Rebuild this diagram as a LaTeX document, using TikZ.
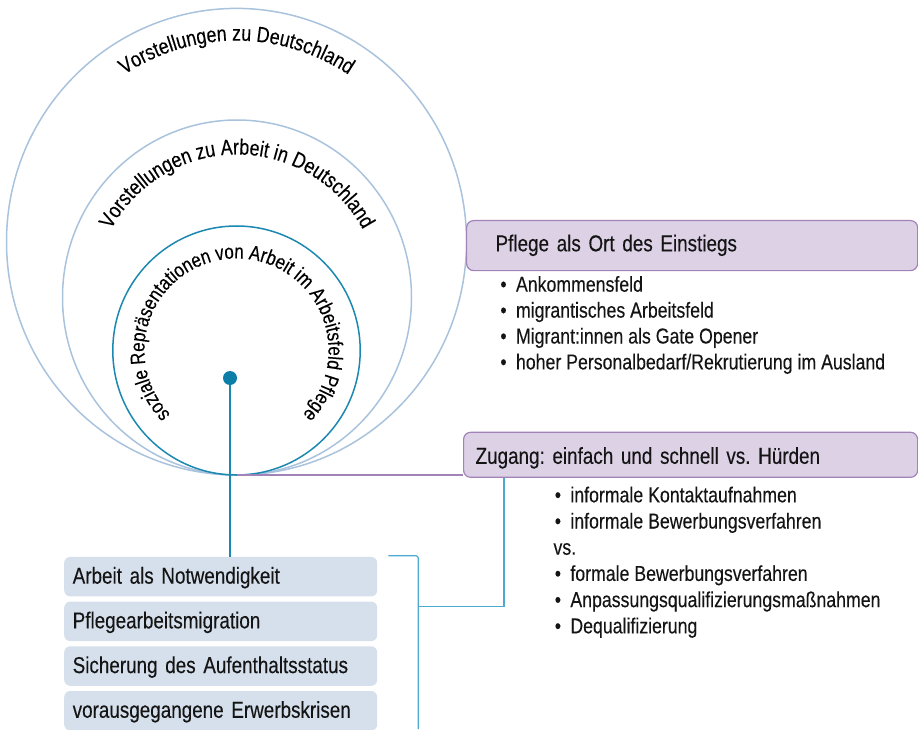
\documentclass[tikz,border=0pt]{standalone}
\usepackage{fontspec}
\setmainfont{Liberation Sans}[FakeStretch=0.82,FakeBold=0.2]
\usetikzlibrary{decorations.text,calc}
\definecolor{ringlight}{HTML}{A9C3DD}
\definecolor{ringteal}{HTML}{1A88B0}
\definecolor{dotteal}{HTML}{0B7FA7}
\definecolor{linkteal}{HTML}{4DA9CD}
\definecolor{purfill}{HTML}{DDD1E6}
\definecolor{purline}{HTML}{A283B8}
\definecolor{boxblue}{HTML}{D6E0EC}
\definecolor{ink}{HTML}{141414}
\newcommand\myHfont{\fontsize{23}{26}\selectfont}
\newcommand\myBfont{\fontsize{21.6}{25}\selectfont}
\newcommand\myRfont{\fontsize{21.8}{25}\selectfont}
\newcommand\myIfont{\fontsize{20.6}{24}\selectfont}
\newcommand\myItem[1]{\makebox[15.6pt][l]{•}#1}
\tikzset{
  ring/.style={draw=ringlight, line width=1.5pt},
  innerring/.style={draw=ringteal, line width=1.5pt},
  purbox/.style={draw=purline, fill=purfill, line width=1.2pt, rounded corners=7pt,
    align=left, font=\myHfont, text=ink, inner ysep=0pt},
  lbox/.style={fill=boxblue, rounded corners=6pt, minimum height=39.5pt, inner xsep=8.5pt,
    inner ysep=0pt, text width=296pt, align=left, text height=17pt, text depth=3pt,
    font=\myHfont, text=ink, anchor=north west},
  bul/.style={anchor=base west, inner sep=0pt, font=\myBfont, text=ink},
  link/.style={draw=linkteal, line width=1.2pt},
  stem/.style={draw=ringteal, line width=1.3pt},
  purlink/.style={draw=purline, line width=1.3pt},
  ringtext/.style={decorate, decoration={text along path, text align=center, text={#1}}}
}
\begin{document}
\frenchspacing
\begin{tikzpicture}[x=1pt,y=1pt]
\useasboundingbox (0,0) rectangle (918,-730);
% circles
\coordinate (cO) at (236.5,-241.7);
\coordinate (cM) at (237,-297.5);
\coordinate (cI) at (236.5,-350.5);
\coordinate (tp) at (236.5,-475);
\draw[ring] (cO) ellipse[x radius=230pt, y radius=233.3pt];
\draw[ring] (cM) ellipse[x radius=174.5pt, y radius=177.5pt];
\draw[innerring] (cI) ellipse[x radius=123.7pt, y radius=124.5pt];
% ring texts
\path[ringtext={|\myRfont|Vorstellungen zu Deutschland}]
  ($(cO)+(200:201pt)$) arc[start angle=200, end angle=-20, radius=201pt];
\path[ringtext={|\myRfont|Vorstellungen zu Arbeit in Deutschland}]
  ($(cM)+(215:143pt)$) arc[start angle=215, end angle=-35, radius=143pt];
\path[ringtext={|\myIfont|soziale Repräsentationen von Arbeit im Arbeitsfeld Pflege}]
  ($(cI)+(265:92pt)$) arc[start angle=265, end angle=-85, radius=92pt];
% purple boxes
\node[purbox, anchor=north west, minimum width=451pt, minimum height=50pt,
  inner xsep=29pt, text width=393pt, text height=15.7pt, text depth=4.3pt]
  (pfl) at (466,-220) {Pflege als Ort des Einstiegs};
\node[purbox, anchor=north west, minimum width=454pt, minimum height=45pt,
  inner xsep=12pt, text width=430pt, text height=19pt, text depth=1pt]
  (zug) at (463,-431.7) {Zugang: einfach und schnell vs. Hürden};
% top list
\node[bul] (p1) at (500.2,-291.7) {\myItem{Ankommensfeld}};
\node[bul] (p2) at (500.2,-317.6) {\myItem{migrantisches Arbeitsfeld}};
\node[bul] (p3) at (500.2,-343.5) {\myItem{Migrant:innen als Gate Opener}};
\node[bul] (p4) at (500.2,-369.4) {\myItem{hoher Personalbedarf/Rekrutierung im Ausland}};
% bottom list
\node[bul] (z1) at (554.6,-502.3) {\myItem{informale Kontaktaufnahmen}};
\node[bul] (z2) at (554.6,-528.5) {\myItem{informale Bewerbungsverfahren}};
\node[bul] (z3) at (553.3,-554.7) {vs.};
\node[bul] (z4) at (554.6,-580.9) {\myItem{formale Bewerbungsverfahren}};
\node[bul] (z5) at (554.6,-607.1) {\myItem{Anpassungsqualifizierungsmaßnahmen}};
\node[bul] (z6) at (554.6,-633.3) {\myItem{Dequalifizierung}};
% left boxes
\node[lbox] (b1) at (64,-556.7) {Arbeit als Notwendigkeit};
\node[lbox] (b2) at (64,-601.4) {Pflegearbeitsmigration};
\node[lbox] (b3) at (64,-646.1) {Sicherung des Aufenthaltsstatus};
\node[lbox] (b4) at (64,-690.8) {vorausgegangene Erwerbskrisen};
% dot and connectors
\node[circle, fill=dotteal, minimum size=14pt, inner sep=0pt] (dot) at (230,-378) {};
\draw[stem] (dot) -- (dot |- b1.north);
\draw[purlink] (tp) -- (tp -| zug.south west);
\draw[purlink, line width=1pt] (pfl.south east) -- (zug.north east);
\coordinate (brM) at (418.3,-606.7);
\coordinate (brB) at (418.3,-729);
\draw[link, rounded corners=2.5pt] ([xshift=11pt,yshift=1pt]b1.north east) -| (brB);
\draw[link] ([xshift=41pt]zug.south west) |- (brM);
\end{tikzpicture}
\end{document}
